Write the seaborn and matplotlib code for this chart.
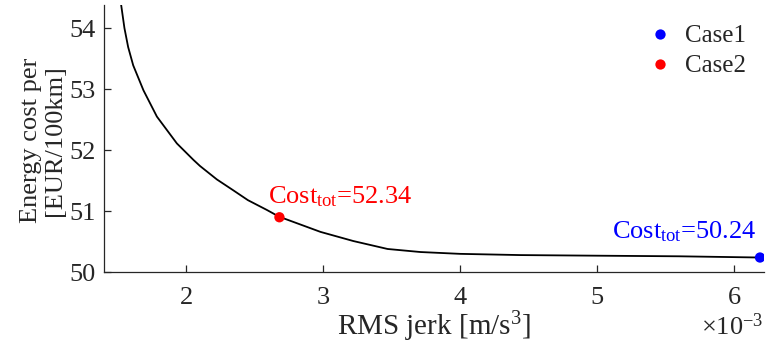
import matplotlib
matplotlib.use("Agg")
import matplotlib.pyplot as plt
import matplotlib.ticker as mticker
import pandas as pd
import seaborn as sns

# pareto front (RMS jerk in m/s^3 x 1e-3, energy cost in EUR/100km)
jerk_x1e3 = [1.524, 1.548, 1.575, 1.612, 1.687, 1.760, 1.785, 1.931, 2.052,
             2.10, 2.223, 2.344, 2.45, 2.588, 2.677, 2.98, 3.22, 3.47, 3.71,
             4.00, 4.44, 5.00, 5.60, 6.19]
cost = [54.38, 54.0, 53.69, 53.39, 52.98, 52.66, 52.55, 52.11, 51.84,
        51.74, 51.52, 51.34, 51.18, 51.02, 50.91, 50.66, 50.51, 50.38, 50.33,
        50.30, 50.28, 50.27, 50.26, 50.24]

cases = ["Case1", "Case2"]
case_jerk_x1e3 = [6.19, 2.68]
case_cost = [50.24, 50.90]
case_labels = ["Cost$_{tot}$=50.24", "Cost$_{tot}$=52.34"]
case_colors = ["#0000ff", "#ff0000"]


def main():
    front = pd.DataFrame({"jerk": [v * 1e-3 for v in jerk_x1e3], "cost": cost})
    pts = pd.DataFrame({"case": cases,
                        "jerk": [v * 1e-3 for v in case_jerk_x1e3],
                        "cost": case_cost})

    sns.set_theme(style="white")
    plt.rcParams["font.family"] = ["Liberation Serif", "DejaVu Serif"]
    plt.rcParams["mathtext.fontset"] = "custom"
    plt.rcParams["mathtext.rm"] = "Liberation Serif"
    plt.rcParams["mathtext.it"] = "Liberation Serif"

    fig = plt.figure(figsize=(7.66, 3.53), dpi=100)
    ax = fig.add_axes([0.136, 0.229, 0.861, 0.757])

    sns.lineplot(data=front, x="jerk", y="cost", color="black", lw=1.3,
                 ax=ax, sort=False, legend=False)
    sns.scatterplot(data=pts, x="jerk", y="cost", hue="case",
                    palette=dict(zip(cases, case_colors)), s=55,
                    edgecolor="none", ax=ax, zorder=5)

    # text labels next to the points
    offsets = [(-1.08e-3, 0.32), (-0.08e-3, 0.23)]
    for xv, yv, lab, col, (dx, dy) in zip(pts["jerk"], pts["cost"],
                                          case_labels, case_colors, offsets):
        ax.text(xv + dx, yv + dy, lab, color=col, fontsize=19,
                ha="left", va="baseline")

    ax.set_xlim(1.40e-3, 6.217e-3)
    ax.set_ylim(50, 54.38)
    ax.set_xticks([2e-3, 3e-3, 4e-3, 5e-3, 6e-3])
    ax.set_yticks([50, 51, 52, 53, 54])
    fmt = mticker.ScalarFormatter(useMathText=True)
    fmt.set_powerlimits((-2, 2))
    ax.xaxis.set_major_formatter(fmt)
    ax.xaxis.get_offset_text().set_fontsize(19)

    for side in ["top", "right"]:
        ax.spines[side].set_visible(False)
    for side in ["left", "bottom"]:
        ax.spines[side].set_color("#262626")
        ax.spines[side].set_linewidth(0.9)
    ax.tick_params(direction="in", length=5, width=0.9, color="#262626",
                   labelsize=19, labelcolor="#262626", pad=6,
                   bottom=True, left=True)
    ax.tick_params(axis="x", pad=11)

    ax.set_xlabel("RMS jerk [m/s$^3$]", fontsize=21, color="#262626",
                  labelpad=0)
    ax.set_ylabel("Energy cost per\n[EUR/100km]", fontsize=19,
                  color="#262626", linespacing=1.1)
    ax.yaxis.set_label_coords(-0.058, 0.494)

    ax.legend(loc="upper right", frameon=False, fontsize=18,
              handlelength=1.0, handletextpad=0.5, labelspacing=0.3,
              borderaxespad=0.4, bbox_to_anchor=(1.003, 1.0))

    fig.savefig("out.png", dpi=100)


if __name__ == "__main__":
    main()
